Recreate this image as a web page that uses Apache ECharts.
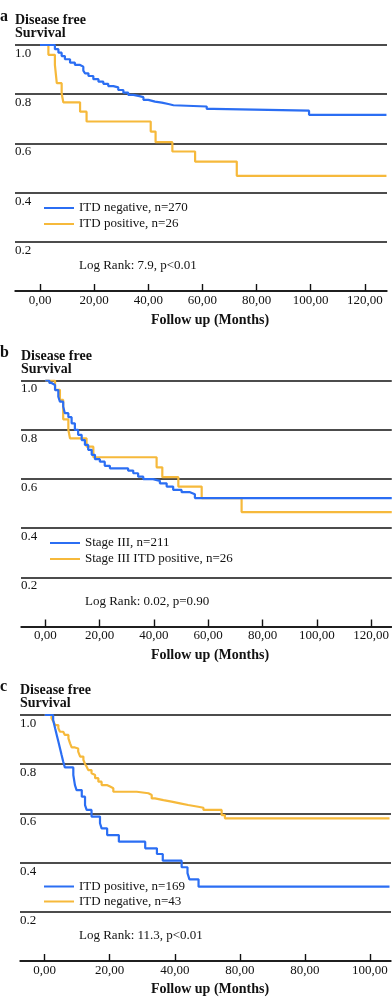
<!DOCTYPE html>
<html>
<head>
<meta charset="utf-8">
<script src="https://cdn.jsdelivr.net/npm/echarts@6/dist/echarts.min.js"></script>
<style>
html, body { margin: 0; padding: 0; background: #fff; }
#chart { width: 392px; height: 998px; }
</style>
</head>
<body>
<div id="chart"></div>
<script>
// panel a: ITD negative / ITD positive
const aNegMonths = [0, 5.5, 6.8, 8.0, 9.2, 11.1, 12.9, 14.8, 16.0, 16.6, 17.9, 19.7, 21.6, 23.4, 25.2, 27.1, 28.9, 30.8, 32.6, 34.5, 36.3, 38.2, 40.0, 42.5, 45.0, 47.4, 49.3, 61.6, 64.0, 99.4, 128];
const aNegSurv   = [1, 0.983, 0.969, 0.955, 0.942, 0.928, 0.919, 0.912, 0.896, 0.885, 0.874, 0.861, 0.851, 0.842, 0.833, 0.828, 0.817, 0.806, 0.797, 0.793, 0.788, 0.777, 0.770, 0.766, 0.760, 0.755, 0.750, 0.740, 0.733, 0.716, 0.716];
const aPosMonths = [0, 3.1, 5.5, 6.2, 8.0, 8.6, 14.8, 17.2, 40.9, 42.7, 48.9, 57.3, 72.7, 128];
const aPosSurv   = [1, 0.960, 0.919, 0.845, 0.804, 0.767, 0.729, 0.689, 0.648, 0.605, 0.567, 0.526, 0.468, 0.468];

// panel b: Stage III / Stage III ITD positive
const bAllMonths = [0, 1.5, 2.3, 3.6, 4.8, 5.4, 6.6, 7.2, 8.5, 9.7, 10.9, 12.1, 13.4, 14.6, 15.8, 17.1, 18.3, 20.1, 21.9, 23.8, 30.5, 32.4, 34.2, 36.1, 39.7, 42.2, 44.7, 47.1, 50.2, 53.3, 55.1, 127.6];
const bAllSurv   = [1, 0.99, 0.982, 0.961, 0.934, 0.914, 0.894, 0.867, 0.851, 0.826, 0.799, 0.779, 0.758, 0.738, 0.718, 0.698, 0.680, 0.670, 0.653, 0.643, 0.634, 0.623, 0.609, 0.599, 0.592, 0.582, 0.569, 0.555, 0.546, 0.538, 0.522, 0.522];
const bPosMonths = [0, 3.6, 5.4, 6.6, 8.5, 9.1, 15.2, 17.7, 41.0, 43.1, 49.0, 57.6, 72.3, 127.6];
const bPosSurv   = [1, 0.962, 0.921, 0.842, 0.799, 0.765, 0.731, 0.688, 0.647, 0.607, 0.569, 0.522, 0.465, 0.465];

// panel c: ITD positive / ITD negative
const cPosMonths = [0, 2.6, 3.2, 3.7, 4.2, 4.7, 5.2, 5.7, 6.2, 8.8, 9.3, 9.8, 11.4, 12.4, 12.9, 14.4, 17.0, 17.5, 19.2, 22.8, 30.9, 34.5, 36.3, 42.1, 43.9, 44.5, 47.3, 106];
const cPosSurv   = [1, 0.980, 0.946, 0.919, 0.892, 0.865, 0.837, 0.810, 0.787, 0.756, 0.715, 0.695, 0.668, 0.634, 0.614, 0.587, 0.560, 0.539, 0.512, 0.485, 0.458, 0.435, 0.408, 0.381, 0.357, 0.332, 0.302, 0.302];
const cNegMonths = [0, 2.1, 2.7, 3.2, 4.2, 4.7, 5.7, 6.2, 7.3, 7.8, 8.3, 9.3, 10.3, 10.9, 11.9, 12.4, 12.9, 13.4, 14.4, 14.9, 15.5, 16.5, 17.5, 19.1, 20.1, 21.1, 28.3, 31.9, 32.9, 33.9, 36.5, 39.0, 41.6, 44.1, 47.2, 48.8, 54.4, 55.4, 106];
const cNegSurv   = [1, 0.987, 0.973, 0.959, 0.946, 0.932, 0.925, 0.919, 0.905, 0.885, 0.868, 0.864, 0.851, 0.831, 0.817, 0.801, 0.790, 0.776, 0.763, 0.756, 0.743, 0.729, 0.715, 0.709, 0.702, 0.688, 0.682, 0.675, 0.661, 0.654, 0.648, 0.641, 0.634, 0.627, 0.623, 0.614, 0.593, 0.580, 0.580];

const xTicksAB = [0, 20, 40, 60, 80, 100, 120];
const xLabelsAB = ['0,00', '20,00', '40,00', '60,00', '80,00', '100,00', '120,00'];
const xTicksC = [0, 20, 40, 60, 80, 100];
const xLabelsC = ['0,00', '20,00', '40,00', '80,00', '80,00', '100,00'];

const BLUE = '#2b6ef3';
const ORANGE = '#f6b93b';
const INK = '#111';
const SERIF = "'Liberation Serif', 'DejaVu Serif', serif";

const zip = (t, s) => t.map((x, i) => [x, s[i]]);

function xAxisFor(gi, min, max, ticks, labels) {
  return {
    type: 'value', gridIndex: gi, min: min, max: max,
    axisLine: { show: true, lineStyle: { color: INK, width: 1.6 } },
    axisTick: { show: true, inside: true, length: 7, customValues: ticks, lineStyle: { color: INK, width: 1.4 } },
    axisLabel: {
      customValues: ticks, margin: 3,
      color: INK, fontFamily: SERIF, fontSize: 13, lineHeight: 13,
      formatter: v => labels[ticks.indexOf(v)]
    },
    splitLine: { show: false }
  };
}

function yAxisFor(gi) {
  return {
    type: 'value', gridIndex: gi, min: 0, max: 1, interval: 0.2,
    axisLine: { show: false },
    axisTick: { show: false },
    axisLabel: {
      inside: true, margin: 0, showMinLabel: false,
      verticalAlign: 'top', padding: [2, 0, 0, 0],
      color: INK, fontFamily: SERIF, fontSize: 13, lineHeight: 13,
      formatter: v => v.toFixed(1)
    },
    splitLine: { show: true, lineStyle: { color: INK, width: 1.6 } }
  };
}

function kmLine(name, gi, data, color) {
  return {
    name: name, type: 'line', step: 'end',
    xAxisIndex: gi, yAxisIndex: gi,
    data: data, showSymbol: false, symbol: 'none',
    lineStyle: { color: color, width: 2.2 },
    itemStyle: { color: color },
    animation: false
  };
}

function legendFor(top, left, names, lh) {
  return {
    orient: 'vertical', top: top, left: left, padding: 0,
    itemGap: 0, itemWidth: 30, itemHeight: 2, icon: 'rect',
    data: names,
    textStyle: { color: INK, fontFamily: SERIF, fontSize: 13, lineHeight: lh }
  };
}

function headTitles(letter, letterTop, left, top) {
  return [
    { text: letter, left: 0, top: letterTop, padding: 0,
      textStyle: { fontFamily: SERIF, fontSize: 16, fontWeight: 'bold', color: INK, lineHeight: 16 } },
    { text: 'Disease free\nSurvival', left: left, top: top, padding: 0,
      textStyle: { fontFamily: SERIF, fontSize: 14, fontWeight: 'bold', color: INK, lineHeight: 13 } }
  ];
}

function note(text, x, y, bold) {
  return {
    type: 'text', x: x, y: y,
    style: {
      text: text, fill: INK,
      font: (bold ? 'bold 14px ' : '13px ') + SERIF,
      align: bold ? 'center' : 'left', verticalAlign: 'middle'
    }
  };
}

const chart = echarts.init(document.getElementById('chart'), null, { renderer: 'canvas' });

chart.setOption({
  backgroundColor: '#fff',
  animation: false,
  title: [].concat(
    headTitles('a', 9, 15, 13.5),
    headTitles('b', 345, 21, 349.5),
    headTitles('c', 679, 20, 684)
  ),
  grid: [
    { left: 15, top: 45, width: 372, height: 246 },
    { left: 21, top: 380.5, width: 371, height: 246 },
    { left: 20, top: 715, width: 371, height: 246 }
  ],
  xAxis: [
    xAxisFor(0, -9.24, 128.2, xTicksAB, xLabelsAB),
    xAxisFor(1, -8.94, 127.6, xTicksAB, xLabelsAB),
    xAxisFor(2, -7.59, 106.46, xTicksC, xLabelsC)
  ],
  yAxis: [yAxisFor(0), yAxisFor(1), yAxisFor(2)],
  legend: [
    legendFor(200, 44, ['ITD negative, n=270', 'ITD positive, n=26'], 16),
    legendFor(535, 50, ['Stage III, n=211', 'Stage III ITD positive, n=26'], 16),
    legendFor(879, 44, ['ITD positive, n=169', 'ITD negative, n=43'], 15)
  ],
  series: [
    kmLine('ITD positive, n=26', 0, zip(aPosMonths, aPosSurv), ORANGE),
    kmLine('ITD negative, n=270', 0, zip(aNegMonths, aNegSurv), BLUE),
    kmLine('Stage III ITD positive, n=26', 1, zip(bPosMonths, bPosSurv), ORANGE),
    kmLine('Stage III, n=211', 1, zip(bAllMonths, bAllSurv), BLUE),
    kmLine('ITD negative, n=43', 2, zip(cNegMonths, cNegSurv), ORANGE),
    kmLine('ITD positive, n=169', 2, zip(cPosMonths, cPosSurv), BLUE)
  ],
  graphic: [
    note('Log Rank: 7.9, p<0.01', 79, 266),
    note('Log Rank: 0.02, p=0.90', 85, 601.5),
    note('Log Rank: 11.3, p<0.01', 79, 935.5),
    note('Follow up (Months)', 210, 320, true),
    note('Follow up (Months)', 210, 655.5, true),
    note('Follow up (Months)', 210, 989, true)
  ]
});
</script>
</body>
</html>
